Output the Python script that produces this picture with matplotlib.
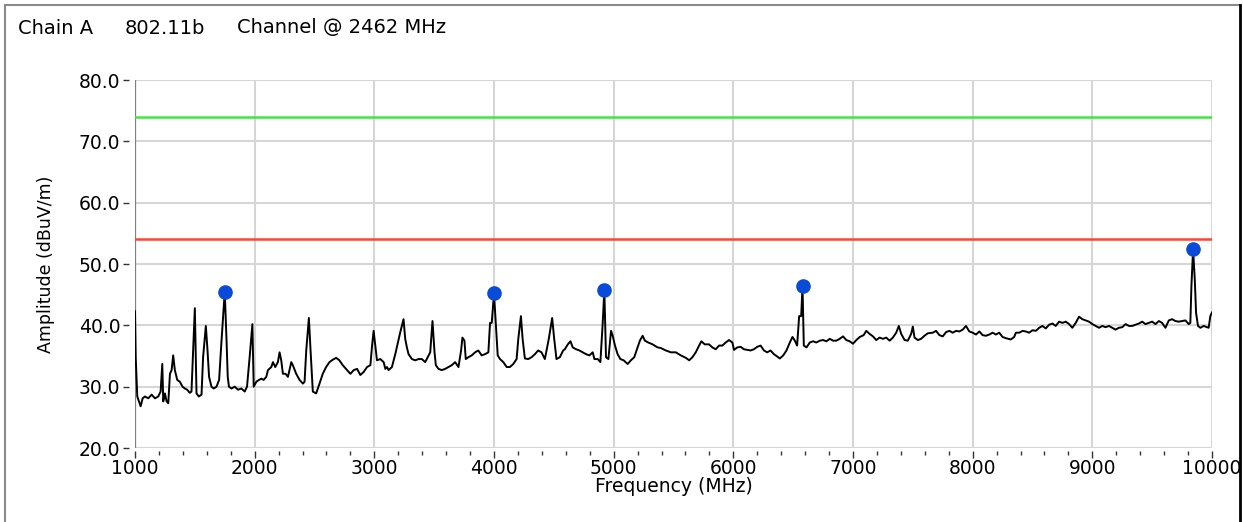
import matplotlib
matplotlib.use("Agg")
import matplotlib.pyplot as plt
from matplotlib.lines import Line2D
from matplotlib.patches import Rectangle
from matplotlib.ticker import MultipleLocator, FormatStrFormatter

# ---- data ----
title_parts = ["Chain A", "802.11b", "Channel @ 2462 MHz"]
x_label = "Frequency (MHz)"
y_label = "Amplitude (dBuV/m)"

freq_mhz = [
    1000, 1006, 1019, 1033, 1047, 1064, 1083, 1111, 1139, 1167, 1194, 1214, 1228, 1236, 1250,
    1264, 1278, 1292, 1306, 1319, 1333, 1353, 1375, 1397, 1417, 1436, 1458, 1472, 1486, 1500,
    1514, 1533, 1556, 1569, 1592, 1606, 1619, 1639, 1658, 1681, 1703, 1722, 1750, 1765, 1775,
    1785, 1806, 1833, 1861, 1889, 1917, 1936, 1958, 1981, 1992, 2014, 2036, 2056, 2075, 2097,
    2111, 2139, 2153, 2172, 2194, 2208, 2222, 2236, 2258, 2278, 2306, 2319, 2347, 2375, 2403,
    2417, 2431, 2453, 2467, 2486, 2514, 2542, 2569, 2597, 2625, 2653, 2681, 2708, 2736, 2758,
    2772, 2800, 2828, 2856, 2883, 2911, 2939, 2967, 2981, 2994, 3008, 3022, 3050, 3078, 3092,
    3106, 3119, 3147, 3175, 3197, 3217, 3244, 3258, 3272, 3286, 3314, 3342, 3369, 3397, 3425,
    3467, 3486, 3503, 3514, 3536, 3564, 3592, 3619, 3647, 3675, 3703, 3725, 3736, 3753, 3764,
    3786, 3814, 3842, 3869, 3897, 3925, 3953, 3967, 3981, 4000, 4014, 4031, 4050, 4078, 4106,
    4133, 4161, 4189, 4203, 4225, 4239, 4258, 4286, 4314, 4342, 4369, 4397, 4425, 4458, 4486,
    4503, 4522, 4550, 4578, 4592, 4617, 4639, 4658, 4686, 4714, 4742, 4769, 4797, 4825, 4839,
    4867, 4889, 4908, 4922, 4936, 4956, 4978, 4992, 5011, 5033, 5056, 5083, 5117, 5144, 5172,
    5200, 5219, 5242, 5261, 5289, 5325, 5367, 5394, 5436, 5478, 5519, 5561, 5603, 5631, 5658,
    5686, 5714, 5733, 5761, 5797, 5825, 5853, 5881, 5908, 5936, 5964, 5992, 6006, 6033, 6061,
    6089, 6117, 6144, 6172, 6200, 6228, 6256, 6283, 6311, 6339, 6367, 6389, 6417, 6444, 6472,
    6494, 6514, 6533, 6550, 6567, 6578, 6589, 6611, 6639, 6667, 6694, 6722, 6750, 6778, 6806,
    6833, 6861, 6889, 6917, 6944, 6972, 7000, 7028, 7056, 7089, 7111, 7139, 7167, 7194, 7222,
    7250, 7278, 7306, 7333, 7361, 7383, 7403, 7431, 7458, 7486, 7500, 7514, 7542, 7569, 7597,
    7625, 7667, 7694, 7722, 7750, 7778, 7806, 7833, 7861, 7889, 7917, 7944, 7972, 8000, 8028,
    8056, 8083, 8111, 8139, 8167, 8194, 8222, 8250, 8278, 8319, 8347, 8361, 8389, 8417, 8444,
    8472, 8500, 8528, 8556, 8583, 8611, 8639, 8667, 8694, 8722, 8750, 8778, 8806, 8833, 8861,
    8889, 8917, 8944, 8972, 9000, 9028, 9056, 9083, 9111, 9139, 9167, 9194, 9222, 9250, 9278,
    9306, 9333, 9361, 9389, 9417, 9444, 9472, 9500, 9528, 9556, 9583, 9611, 9639, 9667, 9694,
    9722, 9750, 9778, 9806, 9819, 9828, 9842, 9856, 9867, 9883, 9903, 9931, 9958, 9972, 9986,
    10000,
]

amplitude_dbuv = [
    42.3, 34.8, 28.4, 27.6, 26.8, 28.1, 28.4, 28.1, 28.7, 28.1, 28.4, 29.2, 33.7, 27.6, 28.9,
    27.6, 27.3, 32.1, 32.7, 35.1, 32.7, 31.1, 30.8, 30.0, 29.7, 29.5, 29.0, 29.2, 35.9, 42.8,
    28.9, 28.4, 28.7, 34.8, 39.9, 35.9, 31.6, 30.0, 29.7, 30.0, 31.1, 37.2, 45.5, 37.5, 31.6,
    30.0, 29.7, 30.0, 29.5, 29.7, 29.2, 30.0, 34.8, 40.2, 30.0, 30.8, 31.1, 31.3, 31.1, 31.6,
    32.7, 33.2, 34.0, 33.2, 34.0, 35.6, 34.3, 32.1, 32.1, 31.6, 34.0, 33.5, 32.1, 31.1, 30.5,
    30.8, 35.9, 41.2, 35.9, 29.2, 28.9, 30.5, 32.1, 33.2, 34.0, 34.4, 34.7, 34.3, 33.5, 33.0,
    32.7, 32.1, 32.7, 32.9, 31.9, 32.4, 33.2, 33.5, 36.7, 39.1, 36.7, 34.3, 34.5, 34.0, 32.9,
    33.2, 32.7, 33.2, 35.3, 37.2, 38.9, 41.0, 37.8, 36.4, 35.3, 34.5, 34.3, 34.5, 34.5, 34.0,
    35.6, 40.7, 35.6, 33.5, 32.9, 32.7, 32.9, 33.2, 33.5, 34.0, 33.2, 35.9, 38.0, 37.5, 34.5,
    34.8, 35.1, 35.6, 35.9, 35.1, 35.3, 35.6, 40.4, 40.4, 45.2, 40.7, 35.1, 34.5, 34.0, 33.2,
    33.2, 33.7, 34.5, 37.8, 41.5, 37.8, 34.6, 34.5, 34.8, 35.3, 35.9, 35.6, 34.5, 37.8, 41.2,
    37.8, 34.5, 34.8, 35.9, 36.1, 36.9, 37.4, 36.4, 36.1, 35.9, 35.6, 35.3, 35.1, 35.6, 34.5,
    34.5, 34.0, 40.2, 45.8, 34.8, 34.5, 39.1, 38.3, 36.7, 35.3, 34.5, 34.3, 33.7, 34.3, 34.8,
    36.4, 37.5, 38.3, 37.5, 37.2, 36.9, 36.4, 36.3, 35.9, 35.6, 35.6, 35.1, 34.7, 34.3, 34.8,
    35.6, 36.7, 37.4, 36.9, 36.9, 36.4, 36.1, 36.7, 36.7, 37.2, 37.6, 37.2, 36.0, 36.4, 36.5,
    36.1, 36.0, 35.9, 36.1, 36.5, 36.7, 35.9, 35.6, 35.9, 35.3, 34.9, 34.6, 35.1, 35.9, 37.2,
    38.1, 37.5, 36.7, 41.5, 41.5, 46.4, 36.7, 36.4, 37.2, 37.4, 37.2, 37.5, 37.6, 37.4, 37.8,
    37.5, 37.5, 37.8, 38.2, 37.6, 37.4, 37.0, 37.6, 38.1, 38.4, 39.1, 38.6, 38.2, 37.6, 38.0,
    37.8, 38.0, 37.5, 38.0, 38.8, 39.9, 38.6, 37.6, 37.5, 38.6, 39.8, 38.0, 37.6, 37.8, 38.3,
    38.7, 38.8, 39.1, 38.4, 38.2, 38.9, 39.1, 38.8, 39.1, 39.0, 39.3, 39.9, 39.0, 38.8, 38.5,
    39.0, 38.4, 38.3, 38.5, 38.8, 38.5, 38.8, 38.1, 37.9, 37.7, 38.1, 38.8, 38.8, 39.1, 39.0,
    38.8, 39.2, 39.1, 39.6, 39.9, 39.5, 40.1, 40.3, 39.9, 40.6, 40.4, 40.6, 40.2, 39.6, 40.4,
    41.4, 41.0, 40.8, 40.6, 40.2, 39.9, 39.6, 39.9, 39.7, 39.9, 39.6, 39.3, 39.6, 39.7, 40.2,
    39.9, 39.9, 40.1, 40.3, 40.6, 40.2, 40.4, 40.6, 40.2, 40.7, 40.4, 39.6, 40.8, 41.0, 40.7,
    40.6, 40.7, 40.8, 40.2, 40.4, 46.4, 52.4, 47.5, 42.0, 39.9, 39.6, 39.9, 39.7, 39.6, 41.5,
    42.1,
]

peak_freq_mhz = [1750, 4000, 4922, 6578, 9842]
peak_amp_dbuv = [45.5, 45.2, 45.8, 46.4, 52.4]

limit_peak = 74.0      # green line
limit_average = 54.0   # red line

x_range = (1000, 10000)
y_range = (20, 80)

# ---- figure ----
W, H = 1243, 522
fig = plt.figure(figsize=(W / 100, H / 100), dpi=100)
plt.rcParams['font.family'] = ['DejaVu Sans']
FS = 13.5

ax = fig.add_axes([135 / W, 1 - 448 / H, (1212 - 135) / W, (448 - 80) / H])
ax.set_xlim(*x_range)
ax.set_ylim(*y_range)

ax.xaxis.set_major_locator(MultipleLocator(1000))
ax.xaxis.set_minor_locator(MultipleLocator(200))
ax.yaxis.set_major_locator(MultipleLocator(10))
ax.yaxis.set_major_formatter(FormatStrFormatter('%.1f'))

ax.grid(True, which='major', color='#d6d6d6', linewidth=1.5)
ax.set_axisbelow(True)

for s in ('top', 'right'):
    ax.spines[s].set_visible(False)
ax.spines['left'].set_position(('outward', 4))
ax.spines['bottom'].set_position(('outward', 2.5))
ax.spines['left'].set_visible(False)
ax.spines['bottom'].set_visible(False)

ax.tick_params(axis='y', which='major', direction='out', length=4.5, width=1.0,
               color='#333333', labelsize=FS, pad=2)
ax.tick_params(axis='x', which='major', direction='out', length=5, width=1.0,
               color='#333333', labelsize=FS, pad=0.5)
ax.tick_params(axis='x', which='minor', direction='out', length=3, width=1.0,
               color='#333333')

# dark left frame line
ax.axvline(x_range[0], color='#808080', linewidth=1.6, zorder=2)

ax.axhline(limit_peak, color='#3ee83e', linewidth=1.8, zorder=3)
ax.axhline(limit_average, color='#ff4433', linewidth=1.8, zorder=3)

ax.plot(freq_mhz, amplitude_dbuv, color='black', linewidth=1.4, zorder=4)
ax.plot(peak_freq_mhz, peak_amp_dbuv, linestyle='none', marker='o',
        markersize=9.5, color='#0a4ad8', markeredgecolor='#0a4ad8', zorder=5)

ax.set_xlabel(x_label, fontsize=FS, va='top')
ax.xaxis.set_label_coords(0.5, -(477 - 448) / (448 - 80))
ax.set_ylabel(y_label, fontsize=12.5)
ax.yaxis.set_label_coords(-(135 - 55) / (1212 - 135), 0.5)

title_x = [18, 125, 237]
for px, part in zip(title_x, title_parts):
    fig.text(px / W, 1 - 28 / H, part, fontsize=14, ha='left', va='center')

# clip region beyond right frame, and frame lines
fig.add_artist(Rectangle((1239.5 / W, 0), 1 - 1239.5 / W, 1, transform=fig.transFigure,
                         facecolor='white', edgecolor='none', zorder=10))
fig.add_artist(Line2D([5 / W, 5 / W], [0, 1 - 5 / H], transform=fig.transFigure,
                      color='#8a8a8a', linewidth=1.5, zorder=11))
fig.add_artist(Line2D([5 / W, 1239.5 / W], [1 - 5 / H, 1 - 5 / H], transform=fig.transFigure,
                      color='#8a8a8a', linewidth=1.5, zorder=11))
fig.add_artist(Line2D([1239.5 / W, 1239.5 / W], [0, 1 - 5 / H], transform=fig.transFigure,
                      color='black', linewidth=2, zorder=11))

fig.savefig('out.png', dpi=100)
